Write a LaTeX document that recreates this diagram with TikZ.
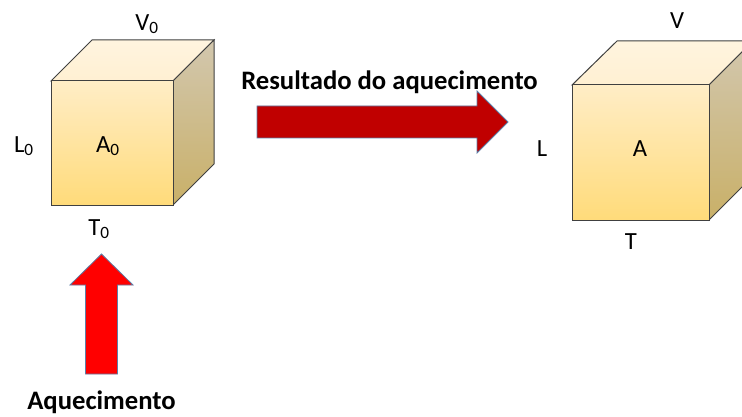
\documentclass[tikz,border=0pt]{standalone}
\usepackage{fontspec}
\setmainfont{Carlito}
\definecolor{frontTop}{HTML}{FFEDC6}
\definecolor{frontBot}{HTML}{FFDB7A}
\definecolor{lidTop}{HTML}{FFF4DF}
\definecolor{lidBot}{HTML}{FFF0D2}
\definecolor{sideTop}{HTML}{D2C7AE}
\definecolor{sideBot}{HTML}{C9B068}
\definecolor{arrowEdge}{HTML}{5B7FA8}
\definecolor{darkRed}{HTML}{C00000}
\tikzset{every picture/.style={line width=0.75pt}}
\tikzset{
  front/.style={draw=black!75,top color=frontTop,bottom color=frontBot},
  lid/.style={draw=black!75,top color=lidTop,bottom color=lidBot},
  side/.style={draw=black!75,top color=sideTop,bottom color=sideBot},
  label/.style={inner sep=0.75pt,font=\fontsize{18.5}{20}\selectfont},
  title/.style={inner sep=0.75pt,font=\fontsize{20}{22}\selectfont\bfseries},
  block/.style={draw=arrowEdge,line width=0.6pt}
}

\begin{document}
\begin{tikzpicture}[x=0.75pt,y=0.75pt,yscale=-1,xscale=1]
\useasboundingbox (0,0) rectangle (742,417);
\clip (0,0) rectangle (742,417);

%Shape: Cube left
\draw[lid] (51,81) -- (92,40) -- (214,40) -- (173,81) -- cycle ;
\draw[side] (173,81) -- (214,40) -- (214,164) -- (173,205) -- cycle ;
\draw[front] (51,81) -- (173,81) -- (173,205) -- (51,205) -- cycle ;
%Shape: Cube right
\draw[lid] (572,85) -- (617,41) -- (753,41) -- (709,85) -- cycle ;
\draw[side] (709,85) -- (753,41) -- (753,176) -- (709,220) -- cycle ;
\draw[front] (572,85) -- (709,85) -- (709,220) -- (572,220) -- cycle ;
%Shape: Right Arrow
\draw[block,fill=darkRed] (257,106) -- (477,106) -- (477,91) -- (508,122) -- (477,153) -- (477,138) -- (257,138) -- cycle ;
%Shape: Up Arrow
\draw[block,fill=red] (85.5,374) -- (85.5,285) -- (70,285) -- (101.5,254) -- (133,285) -- (117.5,285) -- (117.5,374) -- cycle ;

% Text Node
\node[label] (v0) at (147,24) {V\textsubscript{0}};
\node[label] (l0) at (24,146) {L\textsubscript{0}};
\node[label] (a0) at (108,146) {A\textsubscript{0}};
\node[label] (t0) at (99,229) {T\textsubscript{0}};
\node[label] (v1) at (677,21) {V};
\node[label] (l1) at (542,149) {L};
\node[label] (a1) at (640,149) {A};
\node[label] (t1) at (631,242) {T};
\node[title] (heat) at (389.5,82) {Resultado do aquecimento};
\node[title] (source) at (101.5,402) {Aquecimento};

\end{tikzpicture}
\end{document}
